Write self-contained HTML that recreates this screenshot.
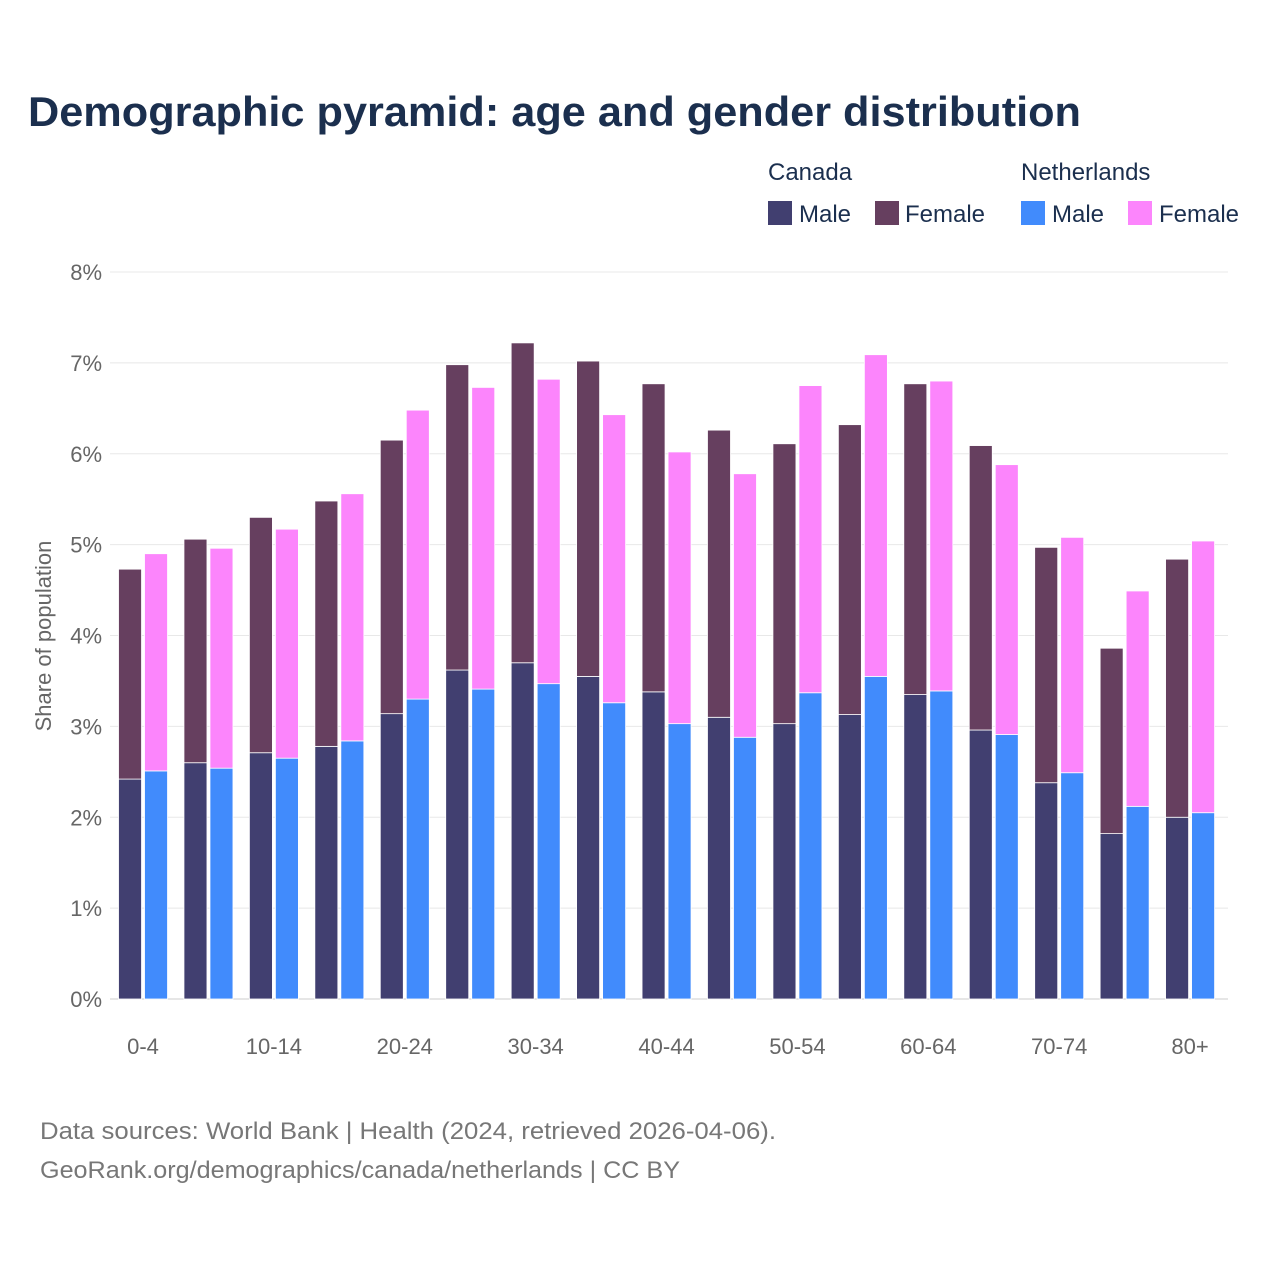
<!DOCTYPE html>
<html><head><meta charset="utf-8"><style>
body{margin:0;background:#fff;font-family:"Liberation Sans",sans-serif}
svg text{font-family:"Liberation Sans",sans-serif}
</style></head><body>
<svg id="chart" width="1280" height="1280" viewBox="0 0 1280 1280" xmlns="http://www.w3.org/2000/svg">
<rect width="1280" height="1280" fill="#fff"/>
<text x="28" y="126" font-size="42" font-weight="bold" fill="#1b2f4e" textLength="1053" lengthAdjust="spacingAndGlyphs">Demographic pyramid: age and gender distribution</text>
<g font-size="24" fill="#1b2f4e">
<text x="768" y="180" fill="#1b2f4e">Canada</text>
<text x="1021" y="180" fill="#1b2f4e">Netherlands</text>
<g><rect x="768" y="201" width="24" height="24" fill="#413f70"/><text x="799" y="222" fill="#1b2f4e">Male</text></g>
<g><rect x="875" y="201" width="24" height="24" fill="#663f5f"/><text x="905" y="222" fill="#1b2f4e">Female</text></g>
<g><rect x="1021" y="201" width="24" height="24" fill="#418bfc"/><text x="1052" y="222" fill="#1b2f4e">Male</text></g>
<g><rect x="1128" y="201" width="24" height="24" fill="#fc85fc"/><text x="1159" y="222" fill="#1b2f4e">Female</text></g>
</g>
<text transform="translate(51,636) rotate(-90)" text-anchor="middle" font-size="22" fill="#666">Share of population</text>
<g id="grid"></g><g id="bars"></g><g id="xlabels"></g>
<text x="40" y="1139" font-size="24" fill="#777" textLength="736" lengthAdjust="spacingAndGlyphs">Data sources: World Bank | Health (2024, retrieved 2026-04-06).</text>
<text x="40" y="1178" font-size="24" fill="#777" textLength="640" lengthAdjust="spacingAndGlyphs">GeoRank.org/demographics/canada/netherlands | CC BY</text>
</svg>
<script>
const categories=["0-4","5-9","10-14","15-19","20-24","25-29","30-34","35-39","40-44","45-49","50-54","55-59","60-64","65-69","70-74","75-79","80+"];
const xTickLabels=["0-4","","10-14","","20-24","","30-34","","40-44","","50-54","","60-64","","70-74","","80+"];
const caMale=[2.42,2.60,2.71,2.78,3.14,3.62,3.70,3.55,3.38,3.10,3.03,3.13,3.35,2.96,2.38,1.82,2.00];
const caFemale=[2.31,2.46,2.59,2.70,3.01,3.36,3.52,3.47,3.39,3.16,3.08,3.19,3.42,3.13,2.59,2.04,2.84];
const nlMale=[2.51,2.54,2.65,2.84,3.30,3.41,3.47,3.26,3.03,2.88,3.37,3.55,3.39,2.91,2.49,2.12,2.05];
const nlFemale=[2.39,2.42,2.52,2.72,3.18,3.32,3.35,3.17,2.99,2.90,3.38,3.54,3.41,2.97,2.59,2.37,2.99];
const yTicks=[0,1,2,3,4,5,6,7,8];
const NS="http://www.w3.org/2000/svg";
const gx0=110,gx1=1228,x0=110.3,x1=1222.8,y0=999,yTop=272,yMax=8;
const step=(x1-x0)/categories.length;
const yS=v=>y0-(v/yMax)*(y0-yTop);
const xC=i=>x0+step*(i+0.5);
function mk(t,a){const e=document.createElementNS(NS,t);for(const k in a)e.setAttribute(k,a[k]);return e;}
const grid=document.getElementById('grid');
yTicks.forEach(t=>{
 const l=mk('line',{x1:gx0,x2:gx1,y1:yS(t),y2:yS(t),stroke:t===0?'#ccc':'#e8e8e8','stroke-width':1});
 
 
 grid.appendChild(l);
 const tx=mk('text',{x:102,y:yS(t)+8,'text-anchor':'end','font-size':22,fill:'#666'});
 tx.textContent=t+'%';
 
 
 grid.appendChild(tx);
});
const bars=document.getElementById('bars');
const bw=23,gap=3;
function bar(x,lo,hi,c,name){
 const r=mk('rect',{x:x,y:yS(hi),width:bw,height:yS(lo)-yS(hi),fill:c,stroke:'#fff','stroke-width':0.8});
 
 
 bars.appendChild(r);
}
categories.forEach((c,i)=>{
 const cx=xC(i);
 const xa=cx-bw-gap/2,xb=cx+gap/2;
 bar(xa,0,caMale[i],'#413f70','bar-canada-male-'+c);
 bar(xa,caMale[i],caMale[i]+caFemale[i],'#663f5f','bar-canada-female-'+c);
 bar(xb,0,nlMale[i],'#418bfc','bar-netherlands-male-'+c);
 bar(xb,nlMale[i],nlMale[i]+nlFemale[i],'#fc85fc','bar-netherlands-female-'+c);
 if(xTickLabels[i]){
  const t=mk('text',{x:cx,y:1054,'text-anchor':'middle','font-size':22,fill:'#666'});
  t.textContent=xTickLabels[i];
  
  
  document.getElementById('xlabels').appendChild(t);
 }
});
</script>
</body></html>
